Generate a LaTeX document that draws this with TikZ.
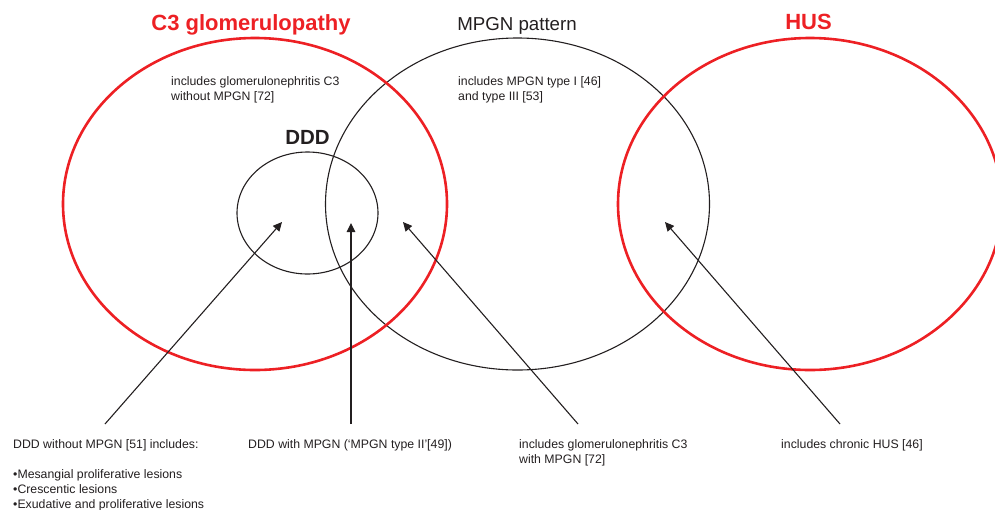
\documentclass[tikz,border=0pt]{standalone}
\usepackage{fontspec}
\setmainfont{Liberation Sans}
\usetikzlibrary{arrows.meta,shapes.geometric}
\definecolor{hred}{RGB}{237,32,36}
\definecolor{ink}{RGB}{35,31,32}
\begin{document}
\begin{tikzpicture}[x=1pt,y=-1pt,
  bigell/.style={ellipse, inner sep=0pt, minimum width=384pt, minimum height=332pt},
  redell/.style={bigell, draw=hred, line width=2.6pt},
  blkell/.style={bigell, draw=ink, line width=1.1pt},
  smallell/.style={ellipse, draw=ink, line width=1.1pt, inner sep=0pt, minimum width=141pt, minimum height=122pt},
  small/.style={font=\fontsize{12.3}{15}\selectfont, text=ink, inner sep=0pt, align=left, anchor=north west},
  title/.style={font=\bfseries\fontsize{22}{26}\selectfont, inner sep=0pt, anchor=base},
  plaintitle/.style={font=\fontsize{18.7}{22}\selectfont, inner sep=0pt, anchor=base, text=ink},
  arr/.style={draw=ink, line width=1.1pt, -{Triangle[length=9pt,width=8.5pt]}}]
\useasboundingbox (0,0) rectangle (995,509);

% ellipses
\node[blkell] (mpgn) at (517.5,204) {};
\node[redell] (c3) at (255,204) {};
\node[redell] (hus) at (810,204) {};
\node[smallell] (ddd) at (307.5,213) {};

% titles
\node[title, text=hred] (tc3) at (251,30) {C3 glomerulopathy};
\node[plaintitle] (tmpgn) at (517,30.5) {MPGN pattern};
\node[title, text=hred] (thus) at (808.5,29.5) {HUS};
\node[title, font=\bfseries\fontsize{20.5}{24}\selectfont, text=ink] (tddd) at (307.5,144) {DDD};

% inner texts
\node[small] (nc3) at (171,76.2) {includes glomerulonephritis C3\\without MPGN [72]};
\node[small] (nmpgn) at (458,76.2) {includes MPGN type I [46]\\and type III [53]};

% bottom texts
\node[small] (b1) at (13,439) {DDD without MPGN [51] includes:\\[15pt]•Mesangial proliferative lesions\\•Crescentic lesions\\•Exudative and proliferative lesions};
\node[small] (b2) at (248,439) {DDD with MPGN (‘MPGN type II’[49])};
\node[small] (b3) at (519,439) {includes glomerulonephritis C3\\with MPGN [72]};
\node[small] (b4) at (781,439) {includes chronic HUS [46]};

% arrows
\coordinate (s1) at (105,424); \coordinate (e1) at (282,222);
\coordinate (s2) at (351,424); \coordinate (e2) at (351,223);
\coordinate (s3) at (578,424); \coordinate (e3) at (403,222);
\coordinate (s4) at (840,424); \coordinate (e4) at (665,222);
\draw[arr] (s1) -- (e1);
\draw[arr] (s2) -- (e2);
\draw[arr] (s3) -- (e3);
\draw[arr] (s4) -- (e4);
\end{tikzpicture}
\end{document}
